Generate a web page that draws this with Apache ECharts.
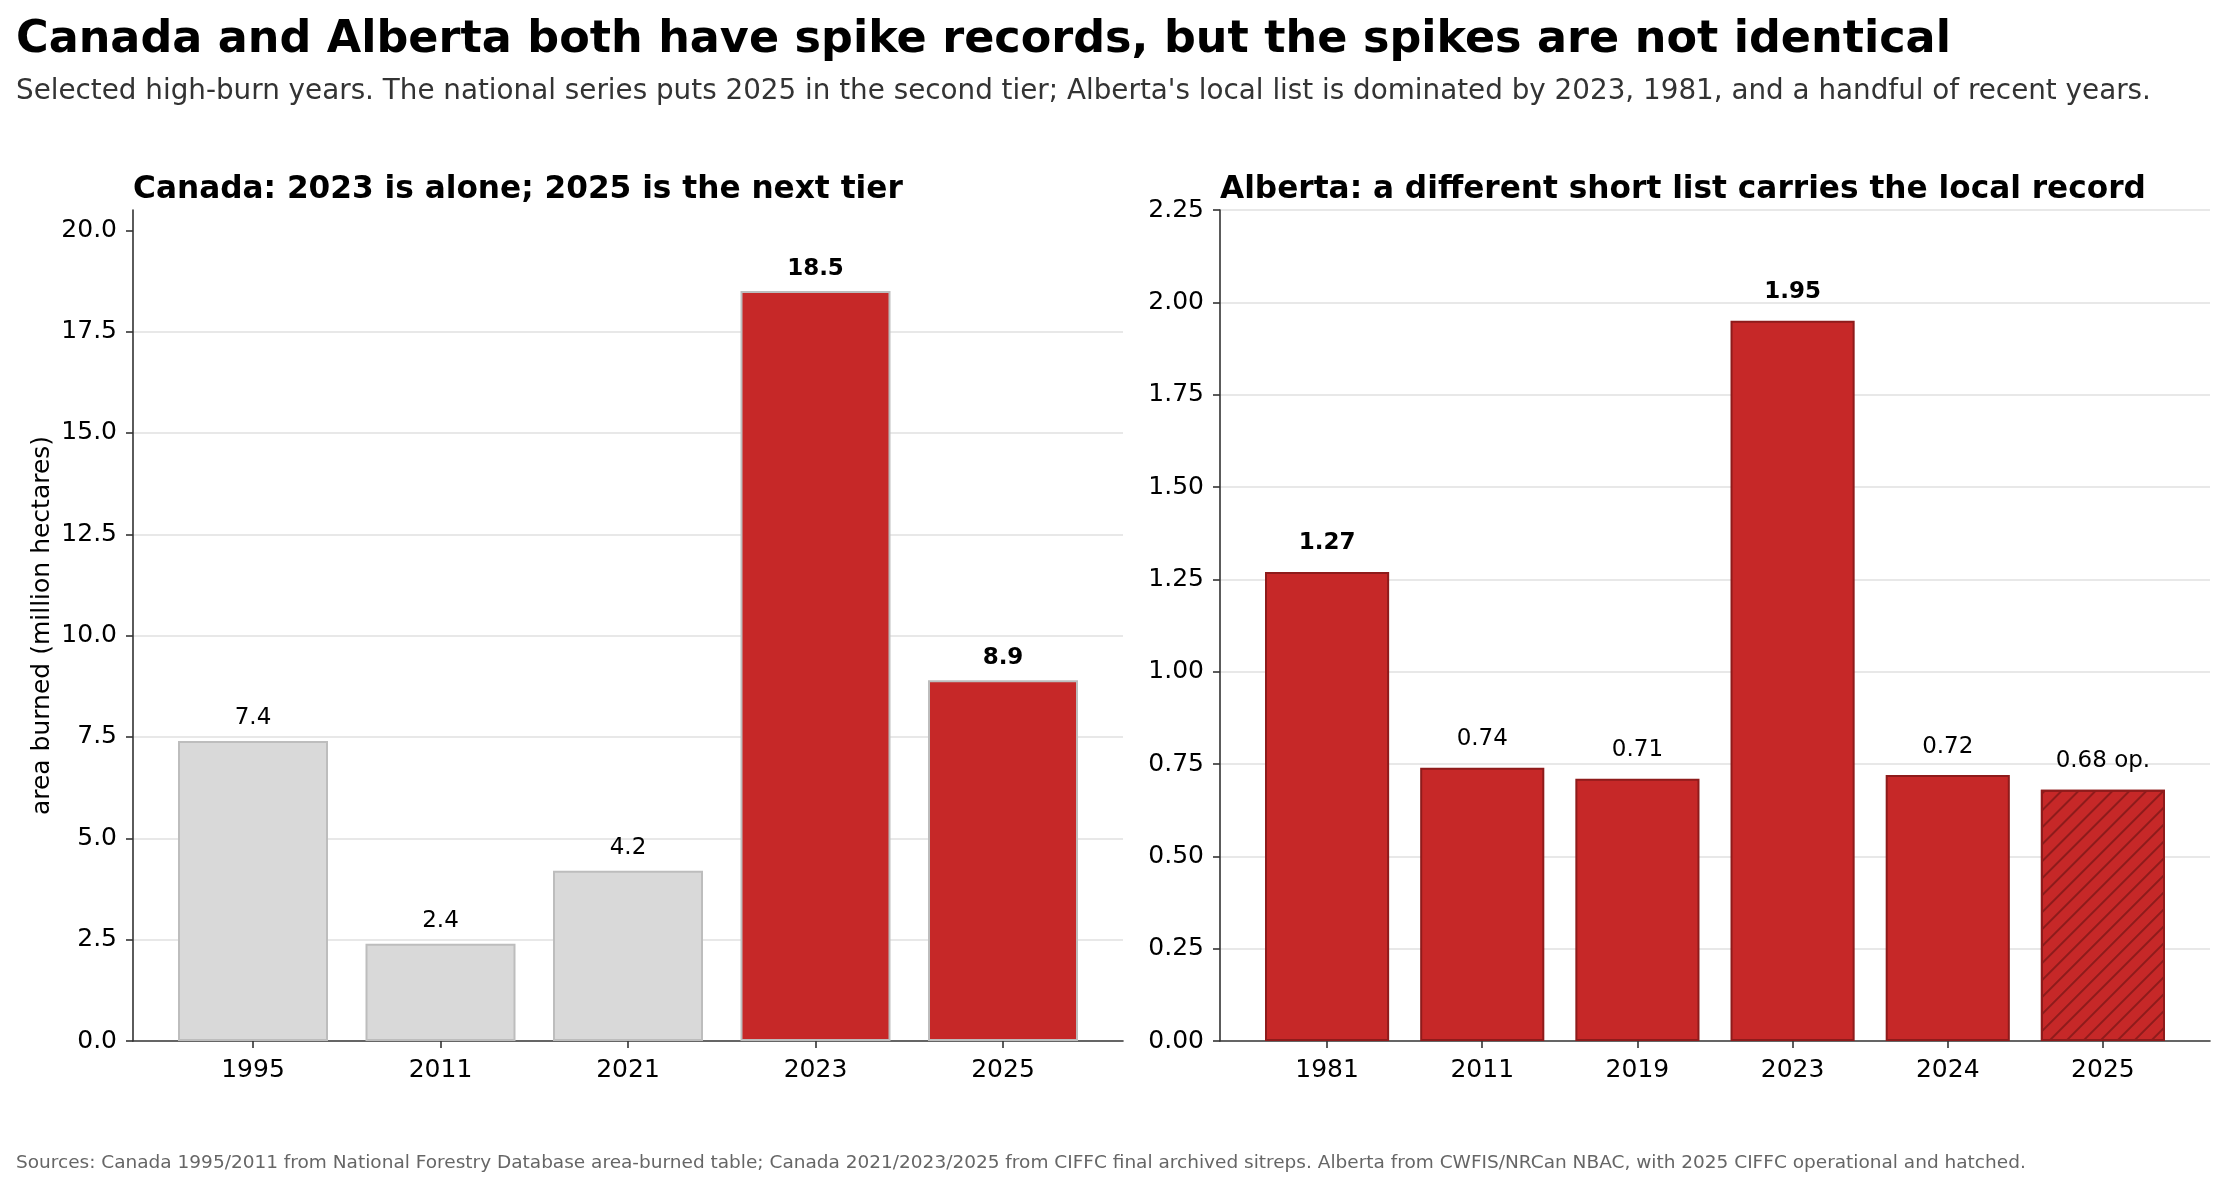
<!DOCTYPE html>
<html>
<head>
<meta charset="utf-8">
<script src="https://cdn.jsdelivr.net/npm/echarts@6/dist/echarts.min.js"></script>
<style>
  html, body { margin: 0; padding: 0; background: #fff; }
  #chart { width: 2225px; height: 1188px; }
</style>
</head>
<body>
<div id="chart"></div>
<script>
// Canada, million hectares
const canadaYears = ['1995', '2011', '2021', '2023', '2025'];
const canadaArea = [7.4, 2.4, 4.2, 18.5, 8.9];
const canadaHighlight = ['2023', '2025'];
const canadaTicks = [0, 2.5, 5, 7.5, 10, 12.5, 15, 17.5, 20];

// Alberta, million hectares
const albertaYears = ['1981', '2011', '2019', '2023', '2024', '2025'];
const albertaArea = [1.27, 0.74, 0.71, 1.95, 0.72, 0.68];
const albertaBold = ['1981', '2023'];
const albertaOperational = ['2025'];
const albertaTicks = [0, 0.25, 0.5, 0.75, 1, 1.25, 1.5, 1.75, 2, 2.25];

const FONT = 'DejaVu Sans';
const RED = '#c62828';
const DARKRED = '#8e1b1b';
const GREY = '#d9d9d9';
const EDGE = '#bdbdbd';
const AXIS = '#333333';

var chart = echarts.init(document.getElementById('chart'), null, { renderer: 'canvas' });

// matplotlib-like x limits: bar width 0.8 plus 5% margin
function xlim(n) {
    var span = (n - 1) + 0.8;
    return [-0.4 - 0.05 * span, n - 1 + 0.4 + 0.05 * span];
}

function xAxisFor(years, gridIndex) {
    var lim = xlim(years.length);
    var idx = years.map(function (_, i) { return i; });
    return {
        type: 'value',
        gridIndex: gridIndex,
        min: lim[0],
        max: lim[1],
        splitLine: { show: false },
        axisLine: { show: true, onZero: false, lineStyle: { color: AXIS, width: 1.6 } },
        axisTick: { show: true, customValues: idx, length: 7, lineStyle: { color: AXIS, width: 1.6 } },
        axisLabel: {
            customValues: idx,
            formatter: function (v) { return years[Math.round(v)]; },
            color: '#000', fontFamily: FONT, fontSize: 25, margin: 17
        }
    };
}

function yAxisFor(ticks, max, interval, digits, gridIndex, name) {
    return {
        type: 'value',
        gridIndex: gridIndex,
        min: 0,
        max: max,
        interval: interval,
        name: name || '',
        nameLocation: 'middle',
        nameGap: 78,
        nameTextStyle: { color: '#000', fontFamily: FONT, fontSize: 25 },
        axisLine: { show: true, onZero: false, lineStyle: { color: AXIS, width: 1.6 } },
        axisTick: { show: true, customValues: ticks, length: 7, lineStyle: { color: AXIS, width: 1.6 } },
        axisLabel: {
            customValues: ticks,
            formatter: function (v) { return v.toFixed(digits); },
            color: '#000', fontFamily: FONT, fontSize: 25, margin: 16
        },
        splitLine: {
            show: true,
            showMinLine: false,
            showMaxLine: max === ticks[ticks.length - 1],
            lineStyle: { color: '#e0e0e0', width: 1.6 }
        }
    };
}

var canadaData = canadaYears.map(function (y, i) {
    var hi = canadaHighlight.indexOf(y) >= 0;
    return {
        value: [i, canadaArea[i]],
        itemStyle: { color: hi ? RED : GREY, borderColor: EDGE, borderWidth: 2 },
        label: { fontWeight: hi ? 'bold' : 'normal' }
    };
});

var albertaData = albertaYears.map(function (y, i) {
    var op = albertaOperational.indexOf(y) >= 0;
    var item = {
        value: [i, albertaArea[i]],
        itemStyle: { color: RED, borderColor: DARKRED, borderWidth: 2 },
        label: { fontWeight: albertaBold.indexOf(y) >= 0 ? 'bold' : 'normal' }
    };
    if (op) {
        item.itemStyle.decal = {
            symbol: 'rect',
            symbolSize: 1,
            dashArrayX: [1, 0],
            dashArrayY: [2, 10],
            rotation: -Math.PI / 4,
            color: DARKRED
        };
    }
    return item;
});

var option = {
    backgroundColor: '#ffffff',
    animation: false,
    title: [
        {
            text: 'Canada and Alberta both have spike records, but the spikes are not identical',
            left: 16, top: 18, padding: 0,
            textStyle: { fontFamily: FONT, fontSize: 44.5, fontWeight: 'bold', color: '#000' }
        },
        {
            text: "Selected high-burn years. The national series puts 2025 in the second tier; Alberta's local list is dominated by 2023, 1981, and a handful of recent years.",
            left: 16, top: 78, padding: 0,
            textStyle: { fontFamily: FONT, fontSize: 27.8, fontWeight: 'normal', color: '#333' }
        },
        {
            text: 'Canada: 2023 is alone; 2025 is the next tier',
            left: 133, top: 174, padding: 0,
            textStyle: { fontFamily: FONT, fontSize: 31.2, fontWeight: 'bold', color: '#000' }
        },
        {
            text: 'Alberta: a different short list carries the local record',
            left: 1220, top: 174, padding: 0,
            textStyle: { fontFamily: FONT, fontSize: 31.2, fontWeight: 'bold', color: '#000' }
        },
        {
            text: 'Sources: Canada 1995/2011 from National Forestry Database area-burned table; Canada 2021/2023/2025 from CIFFC final archived sitreps. Alberta from CWFIS/NRCan NBAC, with 2025 CIFFC operational and hatched.',
            left: 16, top: 1154, padding: 0,
            textStyle: { fontFamily: FONT, fontSize: 18.5, fontWeight: 'normal', color: '#666' }
        }
    ],
    grid: [
        { left: 133, top: 210, width: 990, height: 831 },
        { left: 1220, top: 210, width: 990, height: 831 }
    ],
    xAxis: [xAxisFor(canadaYears, 0), xAxisFor(albertaYears, 1)],
    yAxis: [
        yAxisFor(canadaTicks, 20.5, 2.5, 1, 0, 'area burned (million hectares)'),
        yAxisFor(albertaTicks, 2.25, 0.25, 2, 1)
    ],
    series: [
        {
            type: 'bar',
            xAxisIndex: 0, yAxisIndex: 0,
            barWidth: '80%',
            data: canadaData,
            label: {
                show: true, position: 'top', distance: 11,
                fontFamily: FONT, fontSize: 23, color: '#000',
                formatter: function (p) { return p.value[1].toFixed(1); }
            }
        },
        {
            type: 'bar',
            xAxisIndex: 1, yAxisIndex: 1,
            barWidth: '80%',
            data: albertaData,
            label: {
                show: true, position: 'top', distance: 17,
                fontFamily: FONT, fontSize: 23, color: '#000',
                formatter: function (p) {
                    var s = p.value[1].toFixed(2);
                    return albertaOperational.indexOf(albertaYears[p.dataIndex]) >= 0 ? s + ' op.' : s;
                }
            }
        }
    ]
};

chart.setOption(option);
</script>
</body>
</html>
